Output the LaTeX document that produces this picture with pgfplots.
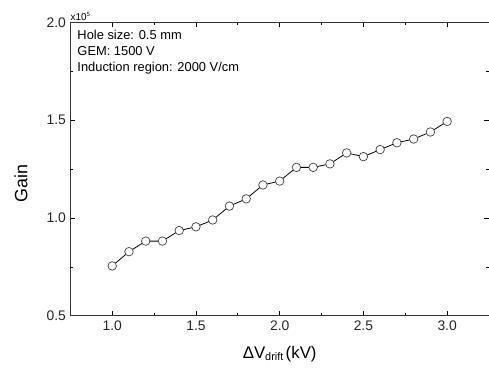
\documentclass[border=0pt]{standalone}
\usepackage{fontspec}
\setmainfont{Liberation Sans}
\usepackage{pgfplots}
\pgfplotsset{compat=1.18}
\begin{document}
\begin{tikzpicture}
\begin{axis}[
  scale only axis,
  width=422.5pt, height=296pt,
  xmin=0.75, xmax=3.25,
  ymin=0.5e5, ymax=2.0e5,
  xtick={1.0,1.5,2.0,2.5,3.0},
  ytick={0.5e5,1.0e5,1.5e5,2.0e5},
  minor x tick num=1,
  minor y tick num=1,
  tick align=inside,
  major tick length=5pt,
  minor tick length=3pt,
  tick style={black, line width=0.8pt},
  axis line style={line width=1pt, black!80},
  /pgf/number format/assume math mode=true,
  xticklabel style={yshift=-2pt, /pgf/number format/.cd, fixed, fixed zerofill, precision=1},
  yticklabel style={xshift=-1pt, /pgf/number format/.cd, fixed, fixed zerofill, precision=1},
  scaled y ticks=base 10:-5,
  ytick scale label code/.code={},
  ticklabel style={font=\fontsize{14}{16}\selectfont, black!85},
  xlabel={\fontsize{17}{19}\selectfont ΔV\textsubscript{\fontsize{11}{12}\selectfont drift\,}(kV)},
  ylabel={\fontsize{18}{20}\selectfont Gain},
  xlabel style={at={(axis description cs:0.5,-0.13)}, anchor=center},
  ylabel style={at={(axis description cs:-0.118,0.452)}, anchor=center},
  clip=false,
]
\addplot[black, line width=0.8pt, mark=*, mark size=4.3pt,
  mark options={draw=black!75, fill=white, line width=0.7pt}]
  table[row sep=\\] {
x y\\
1.0 0.755e5\\
1.1 0.828e5\\
1.2 0.882e5\\
1.3 0.882e5\\
1.4 0.936e5\\
1.5 0.955e5\\
1.6 0.990e5\\
1.7 1.061e5\\
1.8 1.098e5\\
1.9 1.169e5\\
2.0 1.189e5\\
2.1 1.259e5\\
2.2 1.259e5\\
2.3 1.277e5\\
2.4 1.333e5\\
2.5 1.314e5\\
2.6 1.350e5\\
2.7 1.385e5\\
2.8 1.404e5\\
2.9 1.440e5\\
3.0 1.494e5\\
};
\node[anchor=north west, align=left, font=\fontsize{13}{16}\selectfont, inner sep=0pt]
  at (rel axis cs:0,1) [xshift=7pt, yshift=-8pt] {Hole size: 0.5 mm\\GEM: 1500 V\\Induction region: 2000 V/cm};
\node[anchor=south west, inner sep=0pt, font=\fontsize{10}{11}\selectfont]
  at (rel axis cs:0,1) [yshift=2pt] {x10\textsuperscript{\fontsize{6}{7}\selectfont 5}};
\end{axis}
\pgfresetboundingbox
\path (current axis.south west) ++(-71pt,-54.3pt) coordinate (bbl);
\path (current axis.north east) ++(-7pt,22.7pt) coordinate (btr);
\useasboundingbox (bbl) rectangle (btr);
\end{tikzpicture}
\end{document}
